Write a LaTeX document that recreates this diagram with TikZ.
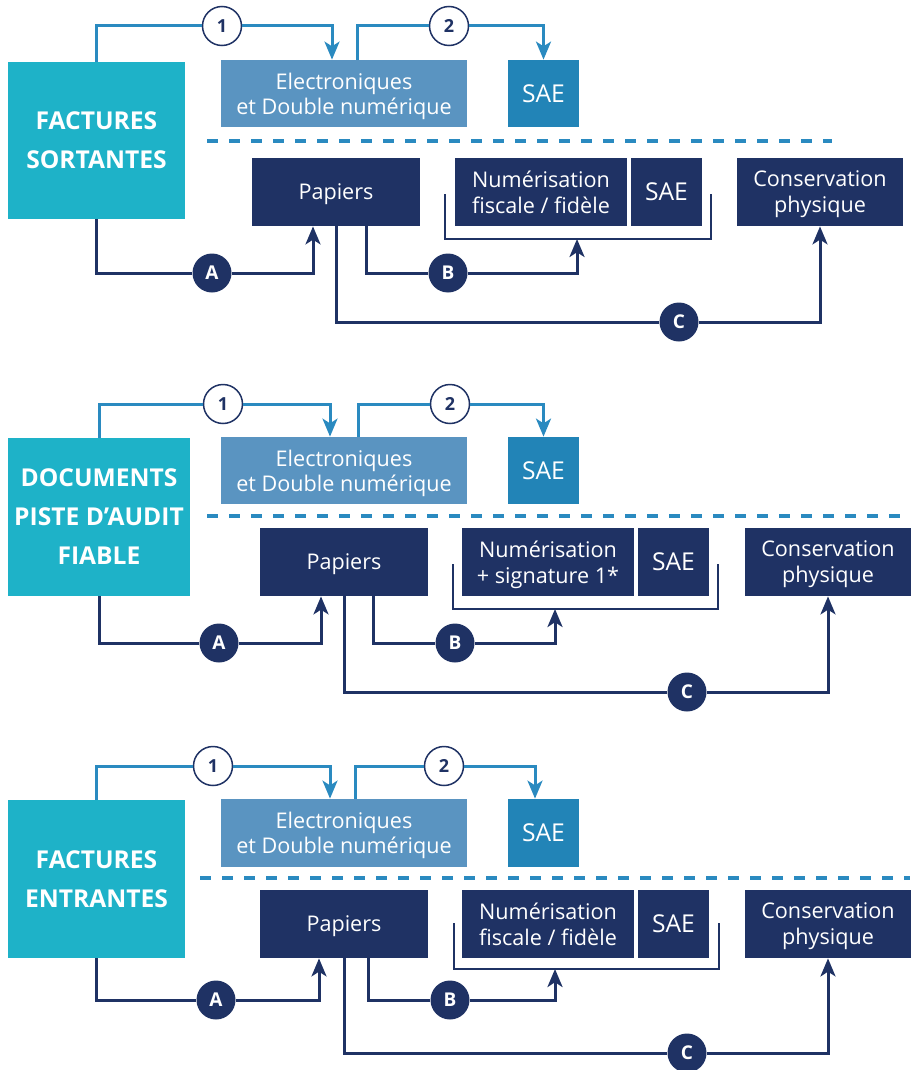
\documentclass[tikz,border=0pt]{standalone}
\usepackage{fontspec}
\setmainfont{Open Sans}
\usetikzlibrary{arrows.meta}

\definecolor{cyanbox}{HTML}{1EB2C8}
\definecolor{elecblue}{HTML}{5A94C1}
\definecolor{saeblue}{HTML}{2284B7}
\definecolor{lineblue}{HTML}{2A8AC0}
\definecolor{navy}{HTML}{1F3264}

\begin{document}
\begin{tikzpicture}[x=0.5pt, y=-0.5pt,
    title/.style = {fill=cyanbox, text=white, font=\bfseries\fontsize{12.3}{19.5}\selectfont, align=center, inner sep=0, minimum width=88.5pt, minimum height=78.5pt},
    elec/.style = {fill=elecblue, text=white, font=\fontsize{10.8}{12.5}\selectfont, align=center, inner sep=0, text depth=0pt, minimum width=123pt, minimum height=33.5pt},
    sae/.style = {fill=saeblue, text=white, font=\fontsize{12.3}{14}\selectfont, inner sep=0, text depth=0pt, minimum width=35.5pt, minimum height=33.5pt},
    dark/.style = {fill=navy, text=white, font=\fontsize{10.8}{13}\selectfont, align=center, inner sep=0, text depth=0pt, minimum height=34pt},
    darksae/.style = {dark, font=\fontsize{12.3}{14}\selectfont, minimum width=35.5pt},
    num/.style = {draw=navy, fill=white, text=navy, circle, line width=0.75pt, inner sep=0, minimum size=19.5pt, font=\bfseries\fontsize{9}{9}\selectfont},
    letter/.style = {fill=navy, text=white, circle, inner sep=0, minimum size=19.5pt, font=\bfseries\fontsize{9.5}{10}\selectfont},
    bline/.style = {draw=lineblue, line width=1.5pt},
    nline/.style = {draw=navy, line width=1.5pt},
    arr/.style = {-{Stealth[length=9pt, width=7.5pt, inset=2.4pt]}},
    sep/.style = {draw=lineblue, line width=1.6pt, dash pattern=on 5.5pt off 5.5pt},
    brk/.style = {draw=navy, line width=0.9pt}]
    \useasboundingbox (0,0) rectangle (910,1070);

    \node[title] (t1) at (96.5,140.5) {FACTURES\\SORTANTES};
    \node[elec] (e1) at (344,93.5) {Electroniques\\et Double numérique};
    \node[sae] (s1) at (543.5,93.5) {SAE};
    \node[dark, minimum width=84pt] (p1) at (336,192) {Papiers};
    \node[dark, minimum width=86pt] (n1) at (541,192) {Numérisation\\fiscale / fidèle};
    \node[darksae] (a1) at (666.5,192) {SAE};
    \node[dark, minimum width=83pt] (c1) at (820,192) {Conservation\\physique};
    \node[num] (u1) at (222,26) {1};
    \node[num] (v1) at (449,26) {2};
    \node[letter] (x1) at (212,273) {A};
    \node[letter] (y1) at (448,273) {B};
    \node[letter] (z1) at (679,322) {C};
    \coordinate (k1) at (577,239);
    \draw[sep] (207,141) -- (832,141);
    \draw[brk] (445,194) |- (711,239) -- (711,194);
    \draw[bline, arr] (t1.north) |- (u1) -| ([xshift=-6pt]e1.north);
    \draw[bline, arr] ([xshift=6.5pt]e1.north) |- (v1) -| (s1.north);
    \draw[nline, arr] (t1.south) |- (x1) -| ([xshift=-11.5pt]p1.south);
    \draw[nline, arr] ([xshift=15pt]p1.south) |- (y1) -| (k1);
    \draw[nline, arr] (p1.south) |- (z1) -| (c1.south);

    \node[title, minimum width=91pt, minimum height=79pt] (t2) at (99,517) {DOCUMENTS\\PISTE D’AUDIT\\FIABLE};
    \node[elec] (e2) at (344,470.5) {Electroniques\\et Double numérique};
    \node[sae] (s2) at (543.5,470.5) {SAE};
    \node[dark, minimum width=84pt] (p2) at (344,562) {Papiers};
    \node[dark, minimum width=86pt] (n2) at (548,562) {Numérisation\\+ signature 1*};
    \node[darksae] (a2) at (673.5,562) {SAE};
    \node[dark, minimum width=83pt] (c2) at (828,562) {Conservation\\physique};
    \node[num] (u2) at (223,404) {1};
    \node[num] (v2) at (450,404) {2};
    \node[letter] (x2) at (219,643) {A};
    \node[letter] (y2) at (455,643) {B};
    \node[letter] (z2) at (687,692) {C};
    \coordinate (k2) at (555,609);
    \draw[sep] (207,516) -- (910,516);
    \draw[brk] (453,564) |- (718,609) -- (718,564);
    \draw[bline, arr] (t2.north) |- (u2) -| ([xshift=-7pt]e2.north);
    \draw[bline, arr] ([xshift=7pt]e2.north) |- (v2) -| (s2.north);
    \draw[nline, arr] (t2.south) |- (x2) -| ([xshift=-11.5pt]p2.south);
    \draw[nline, arr] ([xshift=14.5pt]p2.south) |- (y2) -| (k2);
    \draw[nline, arr] (p2.south) |- (z2) -| (c2.south);

    \node[title, minimum height=79pt] (t3) at (96.5,879) {FACTURES\\ENTRANTES};
    \node[elec, minimum height=34pt] (e3) at (344,833) {Electroniques\\et Double numérique};
    \node[sae, minimum height=34pt] (s3) at (543.5,833) {SAE};
    \node[dark, minimum width=84pt] (p3) at (344,924) {Papiers};
    \node[dark, minimum width=86pt] (n3) at (548,924) {Numérisation\\fiscale / fidèle};
    \node[darksae] (a3) at (673.5,924) {SAE};
    \node[dark, minimum width=83pt] (c3) at (828,924) {Conservation\\physique};
    \node[num] (u3) at (213,766) {1};
    \node[num] (v3) at (444,766) {2};
    \node[letter] (x3) at (216,1000) {A};
    \node[letter] (y3) at (450,1000) {B};
    \node[letter] (z3) at (687,1053) {C};
    \coordinate (k3) at (555,969);
    \draw[sep] (200,878) -- (910,878);
    \draw[brk] (454,923) |- (719,969) -- (719,923);
    \draw[bline, arr] (t3.north) |- (u3) -| ([xshift=-7pt]e3.north);
    \draw[bline, arr] ([xshift=5.5pt]e3.north) |- (v3) -| ([xshift=-4.25pt]s3.north);
    \draw[nline, arr] (t3.south) |- (x3) -| ([xshift=-12.5pt]p3.south);
    \draw[nline, arr] ([xshift=12pt]p3.south) |- (y3) -| (k3);
    \draw[nline, arr] (p3.south) |- (z3) -| (c3.south);
\end{tikzpicture}
\end{document}
